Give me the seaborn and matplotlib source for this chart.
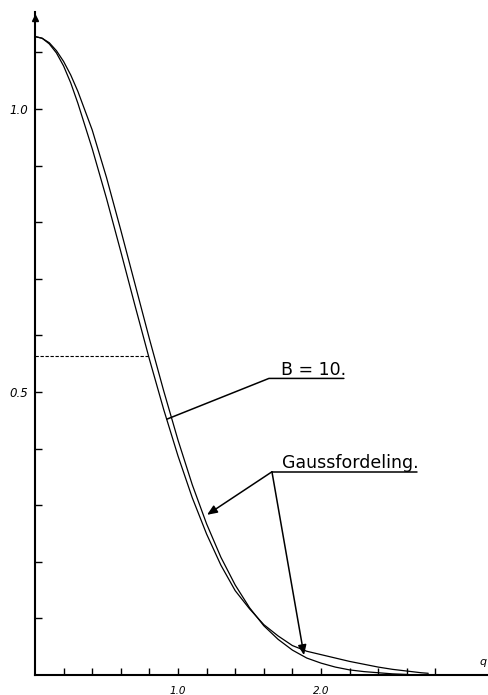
import numpy as np
import pandas as pd
import matplotlib
matplotlib.use("Agg")
import matplotlib.pyplot as plt
from matplotlib import font_manager
import seaborn as sns

# Curve readings: abscissa q and the two density curves
q_gauss = [0.0, 0.05, 0.1, 0.15, 0.2, 0.25, 0.3, 0.4, 0.5, 0.6, 0.7, 0.8, 0.9,
           1.0, 1.1, 1.2, 1.3, 1.4, 1.5, 1.6, 1.7, 1.8, 1.9, 2.0, 2.1, 2.2,
           2.3, 2.4, 2.5, 2.6]
gauss = [1.128, 1.125, 1.117, 1.103, 1.084, 1.060, 1.031, 0.963, 0.879, 0.786,
         0.690, 0.594, 0.502, 0.415, 0.336, 0.267, 0.208, 0.159, 0.119, 0.087,
         0.063, 0.044, 0.030, 0.021, 0.014, 0.009, 0.006, 0.004, 0.002, 0.001]

q_b10 = [0.0, 0.05, 0.1, 0.15, 0.2, 0.25, 0.3, 0.4, 0.5, 0.6, 0.7, 0.8, 0.9,
         1.0, 1.1, 1.2, 1.3, 1.4, 1.5, 1.6, 1.7, 1.8, 1.9, 2.0, 2.1, 2.2,
         2.3, 2.4, 2.5, 2.6, 2.7, 2.75]
b10 = [1.128, 1.125, 1.115, 1.099, 1.076, 1.046, 1.010, 0.930, 0.842, 0.748,
       0.652, 0.558, 0.469, 0.387, 0.313, 0.249, 0.194, 0.149, 0.117, 0.089,
       0.069, 0.052, 0.042, 0.036, 0.030, 0.024, 0.019, 0.014, 0.010, 0.007,
       0.004, 0.003]

# Half-height marker (dashed) and axis ticks
half_level = 0.563
half_q = 0.805
x_ticks = [0.2, 0.4, 0.6, 0.8, 1.0, 1.2, 1.4, 1.6, 1.8, 2.0, 2.2, 2.4, 2.6, 2.8]
x_tick_labels = ["", "", "", "", "1.0", "", "", "", "", "2.0", "", "", "", ""]
y_ticks = [0.1, 0.2, 0.3, 0.4, 0.5, 0.6, 0.7, 0.8, 0.9, 1.0, 1.1]
y_tick_labels = ["", "", "", "", "0.5", "", "", "", "", "1.0", ""]

sns.set_style("ticks")
names = {f.name for f in font_manager.fontManager.ttflist}
label_font = "Liberation Sans Narrow" if "Liberation Sans Narrow" in names else "DejaVu Sans"
plt.rcParams["font.family"] = ["DejaVu Sans"]
plt.rcParams["text.color"] = "black"
plt.rcParams["xtick.color"] = "black"
plt.rcParams["ytick.color"] = "black"
plt.rcParams["xtick.labelcolor"] = "black"
plt.rcParams["ytick.labelcolor"] = "black"

fig = plt.figure(figsize=(4.88, 6.95), dpi=100)
ax = fig.add_axes([35 / 488, 20 / 695, 452 / 488, 663 / 695])

df_g = pd.DataFrame({"q": q_gauss, "f": gauss})
df_b = pd.DataFrame({"q": q_b10, "f": b10})
sns.lineplot(data=df_g, x="q", y="f", color="black", lw=0.9, ax=ax)
sns.lineplot(data=df_b, x="q", y="f", color="black", lw=0.9, ax=ax)

ax.plot([0, half_q], [half_level, half_level], ls=(0, (3, 1.5)), color="black", lw=0.8)

ax.set_xlim(0, 452 / 143)
ax.set_ylim(0, 663 / 566)
ax.set_xlabel("")
ax.set_ylabel("")

for side in ("top", "right"):
    ax.spines[side].set_visible(False)
for side in ("left", "bottom"):
    ax.spines[side].set_linewidth(1.5)
    ax.spines[side].set_color("black")

ax.set_xticks(x_ticks)
ax.set_xticklabels(x_tick_labels, fontstyle="italic", fontsize=7.5)
ax.set_yticks(y_ticks)
ax.set_yticklabels(y_tick_labels, fontstyle="italic", fontsize=8.5)
ax.tick_params(axis="x", direction="in", length=5, width=1, pad=8, colors="black")
ax.tick_params(axis="y", direction="in", length=5, width=1, pad=5, colors="black")

# arrow tip on the vertical axis
ax.plot([0], [663 / 566 - 0.01], marker="^", color="black", ms=5, clip_on=False)
ax.text(3.13, 0.015, "q", fontstyle="italic", fontsize=8, ha="center", va="bottom",
        color="black")

# B = 10 label with underline and pointer
ax.text(1.72, 0.530, "B = 10.", fontsize=12.5, family=label_font, ha="left",
        va="baseline", color="black")
ax.plot([2.16, 1.636, 0.922], [0.524, 0.524, 0.452], color="black", lw=1.1,
        solid_capstyle="round")

# Gaussfordeling label with underline and two arrows
ax.text(1.727, 0.366, "Gaussfordeling.", fontsize=12.5, family=label_font,
        ha="left", va="baseline", color="black")
ax.plot([2.671, 1.657], [0.359, 0.359], color="black", lw=1.1)
arrow_kw = dict(arrowstyle="-|>,head_length=0.6,head_width=0.25", color="black", lw=1.1,
                shrinkA=0, shrinkB=0)
ax.annotate("", xy=(1.203, 0.283), xytext=(1.657, 0.359), arrowprops=arrow_kw)
ax.annotate("", xy=(1.881, 0.035), xytext=(1.657, 0.359), arrowprops=arrow_kw)

fig.savefig("out.png", dpi=100)
